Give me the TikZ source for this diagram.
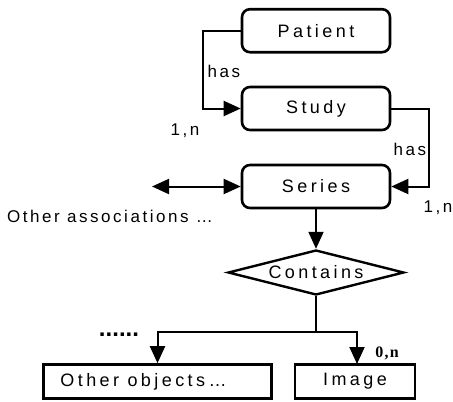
\documentclass[tikz,border=0pt]{standalone}
\usepackage{fontspec}
\setmainfont{Liberation Sans}[LetterSpace=19]
\newfontfamily\labfont{Liberation Sans}[LetterSpace=15]
\newfontfamily\boldserif{Liberation Serif}[LetterSpace=8]
\newfontfamily\dotfont{Liberation Sans}
\usetikzlibrary{arrows.meta,shapes.geometric}
\tikzset{
  ent/.style={draw, line width=2.6pt, rounded corners=8pt, minimum width=148pt, minimum height=43pt, inner sep=0pt, font=\fontsize{18}{21}\selectfont},
  box/.style={draw, line width=2.6pt, minimum height=34pt, inner sep=0pt, font=\fontsize{18}{21}\selectfont},
  rel/.style={draw, line width=2.4pt, diamond, aspect=3.9, minimum width=176pt, minimum height=45pt, inner sep=0pt, font=\fontsize{18}{21}\selectfont},
  conn/.style={line width=2pt, -{Triangle[length=17pt,width=15pt]}},
  lab/.style={inner sep=0pt, font=\labfont\fontsize{17}{20}\selectfont},
}
\begin{document}
\begin{tikzpicture}[x=1pt,y=-1pt]
\useasboundingbox (0,0) rectangle (453,402);
\node[ent] (patient) at (316,30.7) {Patient};
\node[ent] (study) at (316,108.5) {Study};
\node[ent] (series) at (316,186.5) {Series};
\node[rel] (contains) at (316,272.5) {Contains};
\node[box, minimum width=228pt] (other) at (157.5,381.5) {Other objects…\hspace*{28pt}};
\node[box, minimum width=120pt] (image) at (355,381.5) {Image};

\coordinate (p1) at (203,30.7);
\coordinate (p2) at (203,108.5);
\coordinate (s1) at (429,108.5);
\coordinate (s2) at (429,186.5);
\coordinate (left) at (152,186.5);
\coordinate (split) at (316,332);
\coordinate (oleft) at (157.5,332);
\coordinate (iright) at (357,332);
\coordinate (itop) at (357,364);

\draw[conn] (patient.west) -- (p1) -- (p2) -- (study.west);
\draw[conn] (study.east) -- (s1) -- (s2) -- (series.east);
\draw[conn, {Triangle[length=17pt,width=15pt]}-{Triangle[length=17pt,width=15pt]}] (left) -- (series.west);
\draw[conn] (series.south) -- (contains.north);
\draw[line width=2pt] (contains.south) -- (split);
\draw[conn] (split) -- (oleft) -- (other.north);
\draw[conn] (split) -- (iright) -- (itop);

\node[lab] (has1) at (224,71) {has};
\node[lab] (n1) at (185,131) {1,n};
\node[lab] (has2) at (410,149) {has};
\node[lab] (n2) at (438,208) {1,n};
\node[lab] (assoc) at (110,216) {Other associations …};
\node[inner sep=0pt, font=\boldserif\bfseries\fontsize{16}{18}\selectfont] (n3) at (387,353) {0,n};
\node[inner sep=0pt, anchor=base, font=\dotfont\bfseries\fontsize{24}{24}\selectfont] (dots) at (119,336) {......};
\end{tikzpicture}
\end{document}
